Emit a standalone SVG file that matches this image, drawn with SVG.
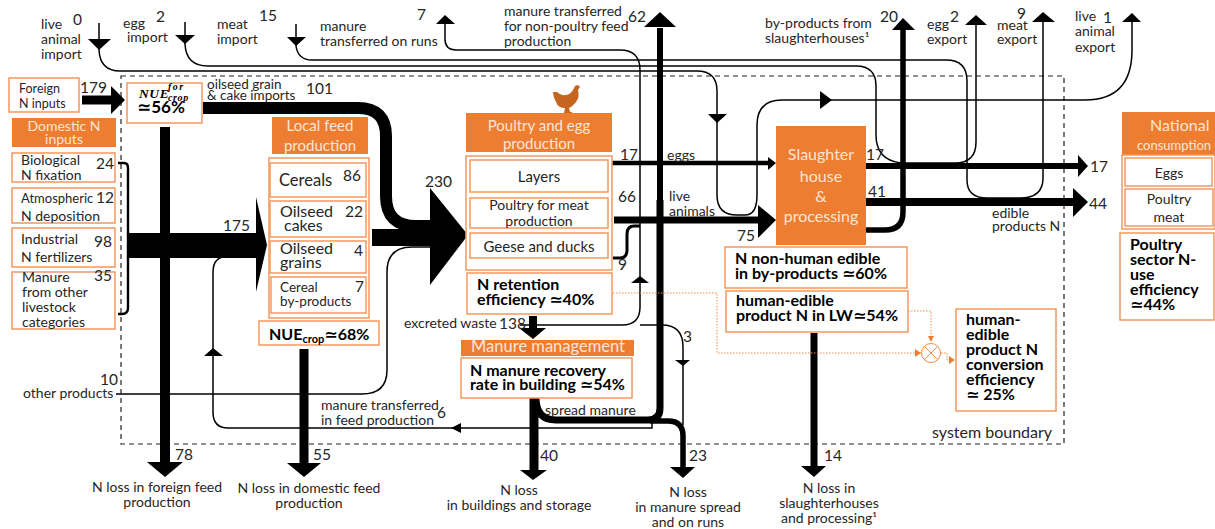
<svg xmlns="http://www.w3.org/2000/svg" width="1215" height="529" viewBox="0 0 1215 529">
<style>
text{font-family:Lato,"Open Sans","DejaVu Sans",sans-serif;font-size:14px;fill:#262626}
.n{font-size:15.5px}
.s{font-size:12.5px}
.m{font-size:16px}
.b{font-weight:700;font-size:16px;fill:#000}
.h{fill:#fbe5d6;font-size:15px;text-anchor:middle}
.c{text-anchor:middle}
.box{fill:#fff;stroke:#f4995c;stroke-width:1.5}
.head{fill:#ed7d31;stroke:none}
.t{fill:none;stroke:#000;stroke-width:1.5}
.k{fill:none;stroke:#000}
.dot{fill:none;stroke:#f08c4a;stroke-width:1;stroke-dasharray:1.5 1.5}
.oa{fill:#ed7d31}
.mi{font-family:"Liberation Serif",serif;font-style:italic;font-weight:700;fill:#000}
</style>
<rect width="1215" height="529" fill="#fff"/>
<rect id="system-boundary" x="121" y="76" width="943" height="368" fill="none" stroke="#222" stroke-width="1.2" stroke-dasharray="5 4"/>
<g id="connectors">
<path class="t" d="M99 23V50Q100 71 120 71H697Q717 71 717 91V195Q717 215 737 215H745Q757 215 757 195V125Q757 100 782 100H1085Q1132 100 1132 50V22"/>
<polygon points="88,39 111,39 99,50"/>
<polygon points="708,114 727,114 717,123"/><polygon points="820,91 832,100 820,109"/><polygon points="1122,22 1141,22 1132,13"/>
<path class="t" d="M185 22V44Q186 66 208 66H856Q876 66 876 86V135Q876 160 901 163H955Q976 163 976 142V24"/>
<polygon points="175,35 195,35 185,44"/><polygon points="965,25 987,25 976,15"/>
<path class="t" d="M296 24V46Q298 60 312 60H946Q967 60 967 81V180Q967 198 987 198H1020Q1043 198 1043 178V22"/>
<polygon points="287,37 306,37 296,46"/><polygon points="1032,22 1055,22 1043,12"/>
<path class="t" d="M520 325H622Q640 325 640 307V70Q640 50 620 50H456Q445 50 445 39V24"/>
<polygon points="436,24 455,24 445,15"/><polygon points="631,283 649,283 640,276"/>
<path class="t" d="M640 325H662Q683 325 683 347V425"/><polygon points="675,360 690,360 683,366"/>
<path class="t" d="M652 422V428H228Q213 428 213 412V272Q213 256 229 256H262"/>
<polygon points="451,428 461,423 461,433"/><polygon points="204,356 223,356 213,348"/>
<path class="t" d="M116 394H362Q387 394 387 370V272Q387 247 412 247H440"/>
<path class="k" stroke-width="2.4" d="M118 163H124Q128 163 128 168V308Q128 314 122 314H118"/>
<path class="k" stroke-width="9" d="M82 100H113"/><polygon points="111,86 125,100 111,114"/>
<path class="k" stroke-width="12" d="M203 108H358Q386 108 386 136V196Q386 226 416 226H435"/>
<rect x="128" y="233" width="130" height="25"/><polygon points="256,197 267,245 256,292"/>
<rect x="372" y="229" width="60" height="17"/><polygon points="430,188 468,235 430,285"/>
<path class="k" stroke-width="10" d="M165 127V463"/><polygon points="147,462 183,462 165,477"/>
<path class="k" stroke-width="9" d="M304 349V464"/><polygon points="287,463 321,463 304,477"/>
<path class="k" stroke-width="7" d="M814 333V467"/><polygon points="801,466 826,466 814,477"/>
<path class="k" stroke-width="8" d="M533 316V329"/><polygon points="519,328 546,328 533,339"/>
<path class="k" stroke-width="9" d="M534 398V471"/><polygon points="520,470 547,470 533,480"/>
<path class="k" stroke-width="7" d="M536 398Q536 420 556 420H648Q660 420 660 408V200"/>
<path class="k" stroke-width="6" d="M660 200V28"/><polygon points="644,27 676,27 660,12"/>
<path class="k" stroke-width="5.5" d="M650 421H668Q683 421 683 436V468"/><polygon points="670,467 695,467 683,478"/>
<path class="k" stroke-width="4.500" d="M612 163H770"/><polygon points="768,157 776,163 768,170"/>
<path class="k" stroke-width="7" d="M614 220H760"/><polygon points="758,205 776,220 758,238"/>
<path class="k" stroke-width="3" d="M613 258H620Q627 258 627 250V234Q627 226 634 226H640"/>
<path class="k" stroke-width="6" d="M866 166H1080"/><polygon points="1078,155 1088,166 1078,177"/>
<path class="k" stroke-width="8" d="M866 202H1075"/><polygon points="1073,188 1088,202 1073,217"/>
<path class="k" stroke-width="5.5" d="M866 230H885Q903 230 903 212V29"/><polygon points="892,30 915,30 903,18"/>
<path class="dot" d="M613 293H717V353H922"/>
<path class="dot" d="M908 311H931V338"/>
<path class="dot" d="M941 353H947V360H950"/>
<polygon class="oa" points="915,349 921,353 915,357"/>
<polygon class="oa" points="928,336 934,336 931,342"/>
<polygon class="oa" points="949,356 955,360 949,364"/>
<g fill="none" stroke="#f08c4a" stroke-width="1"><circle cx="931" cy="353" r="9.500" fill="#fff"/><path d="M924.300 346.300L937.700 359.700M937.700 346.300L924.300 359.700"/></g>
</g>
<g id="foreign-inputs"><rect class="box" x="9" y="78" width="70" height="34"/><text class="s" x="19" y="93">Foreign</text><text class="s" x="19" y="108">N inputs</text><text class="n" x="80" y="93">179</text></g>
<g id="domestic-header"><rect class="head" x="12" y="118" width="104" height="29"/><text class="h" x="64" y="131" style="font-size:14px">Domestic N</text><text class="h" x="64" y="144" style="font-size:14px">inputs</text></g>
<g id="biological"><rect class="box" x="12" y="153" width="103" height="29"/><text x="21" y="165">Biological</text><text x="21" y="180">N fixation</text><text class="n" x="96" y="169">24</text></g>
<g id="atmospheric"><rect class="box" x="12" y="188" width="103" height="35"/><text x="21" y="203" style="font-size:13px">Atmospheric</text><text x="21" y="221">N deposition</text><text class="n" x="96" y="203">12</text></g>
<g id="industrial"><rect class="box" x="12" y="228" width="103" height="39"/><text x="21" y="244">Industrial</text><text x="21" y="262">N fertilizers</text><text class="n" x="94" y="247">98</text></g>
<g id="manure-livestock"><rect class="box" x="12" y="272" width="103" height="57"/><text x="22" y="282">Manure</text><text x="22" y="297">from other</text><text x="22" y="312">livestock</text><text x="22" y="327">categories</text><text class="n" x="94" y="281">35</text></g>
<g id="nue-foreign"><rect class="box" x="127" y="83" width="75" height="40"/>
<text class="mi" x="139" y="98" style="font-size:13.500px;letter-spacing:.6px">NUE</text>
<text class="mi" x="168" y="90" style="font-size:10px;letter-spacing:1.500px">for</text>
<text class="mi" x="168" y="101" style="font-size:10px;letter-spacing:.6px">crop</text>
<text class="b" x="137" y="113" style="font-size:17px">≃56%</text></g>
<g id="oilseed-imports"><text x="207" y="89" style="font-size:13.500px">oilseed grain</text><text x="207" y="100" style="font-size:13.500px">&amp; cake imports</text><text class="n" x="306" y="94">101</text></g>
<g id="local-feed-header"><rect class="head" x="272" y="117" width="96" height="37"/><text class="h" x="320" y="131">Local feed</text><text class="h" x="320" y="151">production</text></g>
<g id="local-feed"><rect class="box" x="269" y="158" width="100" height="160"/>
<rect class="box" x="270" y="163" width="96" height="34"/><text x="279" y="186" style="font-size:16.500px">Cereals</text><text class="n" x="343" y="181">86</text>
<rect class="box" x="270" y="201" width="96" height="36"/><text class="m" x="280" y="217">Oilseed</text><text class="m" x="284" y="231">cakes</text><text class="n" x="345" y="217">22</text>
<rect class="box" x="270" y="241" width="96" height="32"/><text class="m" x="280" y="254">Oilseed</text><text class="m" x="280" y="268">grains</text><text class="n" x="354" y="256">4</text>
<rect class="box" x="271" y="277" width="95" height="36"/><text x="280" y="292" style="font-size:13.500px">Cereal</text><text x="280" y="306" style="font-size:13.500px">by-products</text><text class="n" x="355" y="292">7</text></g>
<g id="nue-crop"><rect class="box" x="259" y="321" width="120" height="24"/><text class="b" x="269" y="340">NUE<tspan font-size="11" dy="3">crop</tspan><tspan dy="-3">≃68%</tspan></text></g>
<text class="n" x="223" y="231">175</text>
<text class="n" x="425" y="187">230</text>
<g id="hen"><path fill="#c5651f" d="M553 92L557 92Q561 96 565 95Q570 95 573 90L575 86L578 85L580 87L578 90Q580 97 576 102Q572 107 569 108L570 112H572V113H564L565 108Q558 108 556 102Q553 97 553 92Z"/></g>
<g id="poultry-header"><rect class="head" x="466" y="113" width="146" height="39"/><text class="h" x="539" y="131">Poultry and egg</text><text class="h" x="539" y="149">production</text></g>
<g id="poultry"><rect class="box" x="466" y="156" width="146" height="114"/>
<rect class="box" x="470" y="160" width="138" height="32"/><text class="c" x="539" y="182" style="font-size:15px">Layers</text>
<rect class="box" x="470" y="198" width="138" height="30"/><text class="c" x="539" y="210">Poultry for meat</text><text class="c" x="539" y="226">production</text>
<rect class="box" x="470" y="233" width="138" height="25"/><text class="c" x="539" y="252" style="font-size:15px">Geese and ducks</text></g>
<g id="retention"><rect class="box" x="467" y="273" width="145" height="41"/><text class="b" x="477" y="290">N retention</text><text class="b" x="477" y="305">efficiency ≃40%</text></g>
<g id="manure-management"><rect class="head" x="461" y="340" width="173" height="16"/><text class="h" x="548" y="352" style="font-size:16.500px">Manure management</text><rect class="box" x="461" y="358" width="171" height="40"/><text class="b" x="470" y="376">N manure recovery</text><text class="b" x="470" y="390">rate in building ≃54%</text></g>
<g id="slaughter"><rect x="776" y="126" width="90" height="119" fill="#ed7d31"/><text class="h" x="821" y="160" style="font-size:16px">Slaughter</text><text class="h" x="821" y="182" style="font-size:16px">house</text><text class="h" x="821" y="202" style="font-size:16px">&amp;</text><text class="h" x="821" y="222" style="font-size:16px">processing</text></g>
<g id="non-human-edible"><rect class="box" x="725" y="247" width="182" height="41"/><text class="b" x="735" y="264">N non-human edible</text><text class="b" x="735" y="279">in by-products ≃60%</text></g>
<g id="human-edible"><rect class="box" x="726" y="291" width="182" height="41"/><text class="b" x="736" y="306">human-edible</text><text class="b" x="736" y="321">product N in LW≃54%</text></g>
<g id="conversion"><rect class="box" x="956" y="309" width="100" height="102"/><text class="b" x="966" y="325">human-</text><text class="b" x="966" y="340">edible</text><text class="b" x="966" y="355">product N</text><text class="b" x="966" y="370">conversion</text><text class="b" x="966" y="385">efficiency</text><text class="b" x="966" y="400">≃ 25%</text></g>
<g id="national"><rect class="head" x="1122" y="112" width="93" height="43"/><text x="1150" y="131" style="fill:#fbe5d6;font-size:16px">National</text><text x="1137" y="150" style="fill:#fbe5d6;font-size:13px">consumption</text>
<rect class="box" x="1122" y="155" width="93" height="74"/>
<rect class="box" x="1125" y="158" width="87" height="28"/><text class="c" x="1169" y="178">Eggs</text>
<rect class="box" x="1125" y="189" width="88" height="37"/><text class="c" x="1169" y="204">Poultry</text><text class="c" x="1169" y="222">meat</text></g>
<g id="sector"><rect class="box" x="1120" y="233" width="94" height="87"/><text class="b" x="1130" y="250">Poultry</text><text class="b" x="1130" y="265">sector N-</text><text class="b" x="1130" y="280">use</text><text class="b" x="1130" y="295">efficiency</text><text class="b" x="1130" y="310">≃44%</text></g>
<g id="labels">
<text x="41" y="29">live</text><text x="41" y="44">animal</text><text x="41" y="59">import</text><text class="n" x="73" y="25">0</text>
<text x="123" y="28">egg</text><text x="127" y="42">import</text><text class="n" x="156" y="22">2</text>
<text x="217" y="29">meat</text><text x="217" y="44">import</text><text class="n" x="259" y="21">15</text>
<text x="320" y="31">manure</text><text x="320" y="46">transferred on runs</text><text class="n" x="417" y="20">7</text>
<text x="504" y="16">manure transferred</text><text x="504" y="31">for non-poultry feed</text><text x="504" y="46">production</text><text class="n" x="628" y="22">62</text>
<text x="765" y="28">by-products from</text><text x="765" y="43">slaughterhouses¹</text><text class="n" x="880" y="22">20</text>
<text x="927" y="29">egg</text><text x="927" y="44">export</text><text class="n" x="950" y="22">2</text>
<text x="997" y="30">meat</text><text x="997" y="44">export</text><text class="n" x="1017" y="19">9</text>
<text x="1075" y="21">live</text><text x="1075" y="36">animal</text><text x="1075" y="52">export</text><text class="n" x="1103" y="23">1</text>
<text class="n" x="620" y="160">17</text><text x="667" y="160">eggs</text><text class="n" x="618" y="202">66</text><text x="669" y="201">live</text><text x="669" y="216">animals</text><text class="n" x="737" y="241">75</text><text class="n" x="618" y="270">9</text>
<text class="n" x="866" y="160">17</text><text class="n" x="868" y="197">41</text><text class="n" x="1090" y="172">17</text><text class="n" x="1089" y="209">44</text><text x="992" y="218">edible</text><text x="992" y="231">products N</text>
<text x="404" y="328">excreted waste</text><text class="n" x="499" y="329">138</text>
<text x="545" y="415">spread manure</text><text class="n" x="683" y="342">3</text>
<text x="321" y="410">manure transferred</text><text x="321" y="425">in feed production</text><text class="n" x="437" y="418">6</text>
<text class="n" x="100" y="385">10</text><text x="23" y="398">other products</text>
<text class="n" x="175" y="460">78</text><text class="n" x="313" y="460">55</text><text class="n" x="540" y="461">40</text><text class="n" x="689" y="461">23</text><text class="n" x="824" y="461">14</text>
<text class="c" x="157" y="492">N loss in foreign feed</text><text class="c" x="157" y="507">production</text>
<text class="c" x="309" y="493">N loss in domestic  feed</text><text class="c" x="309" y="508">production</text>
<text class="c" x="519" y="495">N loss</text><text class="c" x="519" y="510">in buildings and storage</text>
<text class="c" x="688" y="497">N loss</text><text class="c" x="688" y="512">in manure spread</text><text class="c" x="688" y="527">and on runs</text>
<text class="c" x="829" y="493">N loss in</text><text class="c" x="829" y="508">slaughterhouses</text><text class="c" x="829" y="523">and processing¹</text>
<text x="932" y="438" style="font-size:16px">system boundary</text>
</g>
</svg>
